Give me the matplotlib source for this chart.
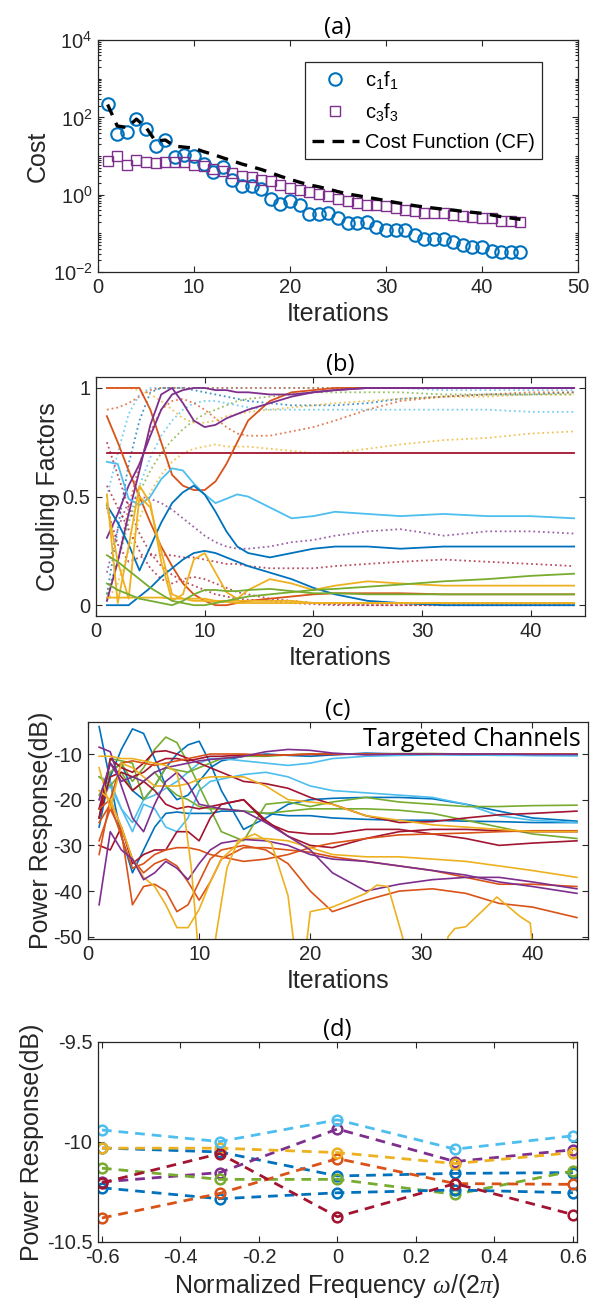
import numpy as np
import matplotlib
matplotlib.use("Agg")
import matplotlib.pyplot as plt
from matplotlib.ticker import LogLocator, NullFormatter, FuncFormatter

plt.rcParams['font.family'] = ['Liberation Sans', 'DejaVu Sans']
plt.rcParams['mathtext.fontset'] = 'custom'
plt.rcParams['mathtext.rm'] = 'Liberation Sans'
plt.rcParams['mathtext.it'] = 'Liberation Serif:italic'
plt.rcParams['axes.unicode_minus'] = False

# MATLAB default colour order
C1, C2, C3, C4, C5, C6, C7 = '#0072BD', '#D95319', '#EDB120', '#7E2F8E', '#77AC30', '#4DBEEE', '#A2142F'
GREY = '#262626'

# ---- (a) cost per iteration ----
iters = np.arange(1, 45)
c1f1 = [221, 38, 42, 90, 50, 18.6, 26, 9.4, 10.6, 10, 6.3, 3.8, 5.2, 2.4, 1.7, 1.7, 1.4, 0.77,
        0.57, 0.67, 0.55, 0.32, 0.32, 0.34, 0.25, 0.19, 0.19, 0.2, 0.15, 0.12, 0.12, 0.12,
        0.093, 0.073, 0.073, 0.072, 0.06, 0.049, 0.045, 0.044, 0.036, 0.034, 0.034, 0.034]
c3f3 = [7.6, 10, 6, 7.7, 6.9, 6.6, 6.9, 6.9, 7.1, 6, 5.4, 4.6, 4.2, 3.6, 3.0, 2.8, 2.4, 2.2,
        1.8, 1.5, 1.3, 1.17, 1.06, 0.9, 0.77, 0.67, 0.6, 0.55, 0.55, 0.5, 0.45, 0.41, 0.37,
        0.34, 0.34, 0.33, 0.3, 0.28, 0.26, 0.25, 0.25, 0.21, 0.21, 0.2]
cost_cf = [215, 60, 55, 90, 55, 24, 26, 18, 17, 16, 13, 11, 9, 7.5, 6.2, 5.3, 4.5, 3.7, 3.0,
           2.5, 2.1, 1.8, 1.6, 1.4, 1.2, 1.05, 0.95, 0.86, 0.78, 0.7, 0.63, 0.57, 0.52, 0.48,
           0.45, 0.42, 0.4, 0.37, 0.35, 0.33, 0.3, 0.27, 0.25, 0.23]

# ---- (b) coupling factors ----
xb = [1, 2, 3, 4, 5, 6, 7, 8, 9, 10, 11, 12, 13, 14, 16, 18, 20, 22, 25, 28, 32, 36, 40, 44]
b_solid = [
    (C7, [0.7] * 24),
    (C2, [1, 1, 1, 1, 0.9, 0.75, 0.6, 0.55, 0.53, 0.53, 0.57, 0.65, 0.75, 0.85, 0.94, 0.98, 0.99, 1, 1, 1, 1, 1, 1, 1]),
    (C2, [0.87, 0.75, 0.62, 0.5, 0.38, 0.27, 0.18, 0.1, 0.05, 0.02, 0.0, 0.0, 0.01, 0.02, 0.03, 0.04, 0.05, 0.055, 0.055, 0.055, 0.05, 0.05, 0.05, 0.05]),
    (C4, [0.02, 0.2, 0.42, 0.62, 0.83, 0.97, 1.0, 0.93, 0.85, 0.82, 0.83, 0.86, 0.88, 0.9, 0.93, 0.96, 0.98, 0.99, 1, 1, 1, 1, 1, 1]),
    (C4, [0.31, 0.42, 0.55, 0.65, 0.78, 0.9, 0.97, 0.99, 1.0, 1.0, 0.99, 0.99, 0.98, 0.98, 0.97, 0.97, 0.98, 0.99, 1, 1, 1, 1, 1, 1]),
    (C6, [0.66, 0.65, 0.49, 0.46, 0.5, 0.58, 0.63, 0.62, 0.56, 0.51, 0.47, 0.49, 0.51, 0.5, 0.45, 0.4, 0.41, 0.43, 0.42, 0.41, 0.42, 0.41, 0.41, 0.4]),
    (C1, [0.46, 0.38, 0.28, 0.16, 0.27, 0.38, 0.47, 0.52, 0.55, 0.51, 0.43, 0.34, 0.27, 0.24, 0.22, 0.24, 0.26, 0.27, 0.27, 0.26, 0.27, 0.27, 0.27, 0.27]),
    (C1, [0, 0, 0, 0.04, 0.08, 0.13, 0.17, 0.21, 0.24, 0.25, 0.24, 0.22, 0.2, 0.18, 0.15, 0.12, 0.08, 0.05, 0.02, 0.01, 0, 0, 0, 0]),
    (C3, [0.51, 0.01, 0.27, 0.55, 0.47, 0.2, 0.02, 0.05, 0.21, 0.24, 0.15, 0.06, 0.03, 0.07, 0.12, 0.1, 0.07, 0.09, 0.11, 0.1, 0.09, 0.09, 0.09, 0.09]),
    (C3, [0.47, 0.2, 0.03, 0.5, 0.45, 0.25, 0.05, 0.03, 0.03, 0.03, 0.02, 0.02, 0.02, 0.02, 0.02, 0.02, 0.01, 0.01, 0.01, 0.01, 0.01, 0.01, 0.01, 0.01]),
    (C3, [0.035, 0.035, 0.035, 0.035, 0.035, 0.035, 0.03, 0.03, 0.02, 0.02, 0.015, 0.015, 0.01, 0.01, 0.01, 0.01, 0.01, 0.01, 0.01, 0.01, 0.01, 0.01, 0.01, 0.01]),
    (C5, [0.23, 0.2, 0.16, 0.12, 0.08, 0.05, 0.02, 0.01, 0.0, 0.0, 0.01, 0.02, 0.03, 0.04, 0.05, 0.06, 0.07, 0.075, 0.085, 0.095, 0.11, 0.12, 0.135, 0.145]),
    (C5, [0.1, 0.07, 0.05, 0.03, 0.02, 0.01, 0.0, 0.02, 0.05, 0.07, 0.07, 0.065, 0.065, 0.07, 0.075, 0.065, 0.055, 0.055, 0.05, 0.05, 0.05, 0.05, 0.05, 0.05]),
]
b_dotted = [
    (C6, [0.5, 0.7, 0.88, 0.97, 1, 1, 1, 1, 1, 1, 1, 1, 1, 1, 1, 1, 1, 1, 1, 1, 0.99, 0.99, 0.99, 0.99]),
    (C6, [0.05, 0.2, 0.4, 0.55, 0.68, 0.78, 0.85, 0.9, 0.93, 0.94, 0.94, 0.93, 0.92, 0.91, 0.9, 0.9, 0.9, 0.9, 0.9, 0.9, 0.9, 0.9, 0.89, 0.89]),
    (C1, [0.05, 0.35, 0.65, 0.85, 0.98, 1, 1, 1, 0.99, 0.98, 0.97, 0.96, 0.95, 0.94, 0.93, 0.92, 0.92, 0.92, 0.93, 0.95, 0.96, 0.97, 0.97, 0.98]),
    (C2, [0.9, 0.91, 0.93, 0.96, 0.99, 1, 1, 1, 1, 1, 1, 1, 1, 1, 1, 1, 1, 1, 1, 1, 1, 1, 1, 1]),
    (C2, [0.03, 0.2, 0.45, 0.65, 0.8, 0.9, 0.94, 0.95, 0.93, 0.9, 0.86, 0.82, 0.79, 0.78, 0.78, 0.8, 0.82, 0.85, 0.9, 0.94, 0.96, 0.97, 0.98, 0.98]),
    (C3, [0.02, 0.1, 0.25, 0.4, 0.52, 0.6, 0.66, 0.7, 0.72, 0.73, 0.74, 0.73, 0.73, 0.73, 0.72, 0.71, 0.7, 0.7, 0.72, 0.74, 0.76, 0.77, 0.79, 0.8]),
    (C3, [1, 1, 1, 0.99, 0.97, 0.94, 0.9, 0.86, 0.84, 0.84, 0.85, 0.87, 0.88, 0.89, 0.9, 0.91, 0.92, 0.93, 0.94, 0.95, 0.96, 0.96, 0.97, 0.97]),
    (C5, [0.05, 0.2, 0.38, 0.52, 0.62, 0.7, 0.76, 0.81, 0.85, 0.88, 0.9, 0.92, 0.94, 0.95, 0.96, 0.97, 0.98, 0.98, 0.98, 0.98, 0.97, 0.97, 0.97, 0.97]),
    (C4, [0.15, 0.35, 0.48, 0.5, 0.49, 0.47, 0.44, 0.4, 0.36, 0.32, 0.29, 0.27, 0.26, 0.26, 0.27, 0.29, 0.3, 0.32, 0.34, 0.35, 0.32, 0.34, 0.34, 0.33]),
    (C7, [0.45, 0.28, 0.2, 0.22, 0.23, 0.23, 0.23, 0.22, 0.22, 0.21, 0.2, 0.19, 0.19, 0.18, 0.17, 0.17, 0.17, 0.18, 0.19, 0.2, 0.21, 0.2, 0.19, 0.18]),
    (C7, [0.75, 0.6, 0.45, 0.33, 0.24, 0.18, 0.14, 0.11, 0.09, 0.07, 0.05, 0.04, 0.03, 0.025, 0.02, 0.01, 0.005, 0, 0, 0, 0, 0, 0, 0]),
    (C7, [0.55, 0.45, 0.35, 0.25, 0.17, 0.12, 0.1, 0.12, 0.13, 0.12, 0.1, 0.08, 0.06, 0.05, 0.03, 0.02, 0.01, 0.005, 0, 0, 0, 0, 0, 0]),
]

# ---- (c) power response of the channels ----
xc = [1, 2, 3, 4, 5, 6, 7, 8, 9, 10, 11, 12, 14, 16, 18, 20, 22, 25, 28, 31, 34, 37, 40, 44]
c_lines = [
    (C1, [-4, -16, -28, -36, -31, -26, -23, -22.7, -23, -23, -23, -22.5, -22.5, -23, -23.5, -23.5, -24, -24.3, -24.5, -24.5, -24.7, -24.8, -25, -25]),
    (C1, [-22, -15, -9, -4.5, -5.5, -11, -17, -20, -19, -16, -13, -11.5, -10.5, -10, -10.3, -10.5, -10.2, -9.8, -10, -10, -10.2, -10.2, -10.3, -10.3]),
    (C1, [-26, -14, -12, -18, -20, -17, -13, -10, -8, -7.2, -12, -18, -26.5, -24, -21, -20, -19.7, -19.5, -19.5, -19.8, -21, -22.5, -24, -24.7]),
    (C6, [-20, -17, -22, -25, -20, -19, -17.5, -16, -14, -12, -11, -11, -11.5, -12, -12.5, -12, -11, -10.5, -10.3, -10.2, -10.2, -10.3, -10.3, -10.4]),
    (C6, [-15, -16, -22, -27, -21, -22, -26, -27, -24, -18, -16, -15.5, -14.5, -14, -15, -17, -18, -18.5, -19, -19.5, -21, -23.5, -24.5, -25]),
    (C5, [-19, -14, -12, -16, -13, -9, -6.3, -7.5, -12, -17, -22, -27, -29, -21, -20.5, -21.5, -20.5, -19.5, -20.5, -21, -21.5, -21.5, -21.3, -21.2]),
    (C5, [-24, -11, -11.5, -12, -20, -17, -13, -13.5, -14, -13, -12, -11, -10.5, -10.5, -10.2, -10, -10, -10, -9.9, -9.9, -10, -10, -10, -10]),
    (C5, [-15, -17, -14, -18, -16, -14, -17, -19, -20, -21.5, -22, -22, -22.5, -23, -22.5, -22, -22, -22, -22.3, -23, -24.5, -26, -27.5, -28.5]),
    (C7, [-24, -11, -13, -14, -12, -9.5, -9.3, -10, -11, -12, -13, -14, -16, -16.5, -17.5, -19.5, -21, -23.5, -25, -24.8, -24, -23.3, -23, -22.5]),
    (C7, [-22, -12, -15, -18, -16, -18, -21, -22, -21.5, -22, -21.5, -21, -20, -24.5, -28, -30, -30.5, -28.5, -27, -26.5, -26.5, -26.8, -27, -27]),
    (C7, [-30, -31, -26, -34, -32, -31, -31, -27, -27, -29, -24, -21, -20, -25, -27, -27.5, -27.5, -26.5, -26.5, -27.5, -28.5, -30, -29.5, -29]),
    (C7, [-24, -15, -14, -15, -14, -12, -11, -11, -11.5, -11, -10.5, -10.5, -10.2, -10.3, -10.2, -10.1, -10.1, -10, -10, -10, -10, -10, -10, -10]),
    (C2, [-32, -20, -12, -11.5, -12, -12.5, -12, -11.5, -11, -10.5, -10, -10, -10, -10.3, -10.2, -10, -10, -10, -10, -10, -10, -10, -10, -10]),
    (C2, [-29, -22, -27, -43, -39, -38.5, -40, -44.5, -43, -38, -33, -31, -30, -31, -34, -40, -44.5, -42, -40, -39.5, -40.5, -42.7, -43.5, -45.8]),
    (C2, [-22, -20, -26, -33, -36, -34, -33, -34.5, -38, -42, -38, -33, -30.5, -30.5, -31, -31.5, -32.5, -33.5, -34.5, -35.5, -37, -38.5, -38.5, -39]),
    (C2, [-25, -21, -28, -35, -34, -32, -31, -30.5, -30.5, -31, -32, -32.5, -33.5, -33, -32, -30.5, -29.5, -28.5, -27.7, -27.5, -27.3, -27, -26.8, -26.8]),
    (C3, [-13, -22, -12, -13, -15, -17, -17, -17, -16.5, -15.5, -15, -15, -15, -17, -20, -20.5, -21, -23.5, -24.5, -25.5, -26, -26.5, -27, -27]),
    (C3, [-18, -20, -26, -33, -37, -39, -43, -48, -48, -44, -38, -33, -28.5, -28.5, -29, -30.5, -32, -32.5, -32.5, -33, -33.5, -34.5, -35.5, -37]),
    (C4, [-43, -27, -31, -33, -37.5, -36, -33.5, -35, -37.5, -34, -31, -29.5, -28.7, -29, -30, -32, -33, -33.5, -34.5, -35.5, -36.5, -38, -39, -40.5]),
    (C4, [-8.5, -9.5, -17, -24, -27, -21, -16, -14, -16.5, -21, -21.5, -22, -22.5, -25, -28, -31, -36, -40, -38.5, -37.5, -37, -37, -38, -39.5]),
    (C4, [-20, -12, -16, -15, -16, -14, -13, -12.5, -12, -11.5, -11.2, -11, -10.5, -9.5, -9, -9.2, -9.8, -10.2, -10, -10, -10, -10, -10.1, -10.1]),
]
# yellow channel that keeps dropping below the axis
xc_y3 = [1, 2, 3, 4, 5, 6, 7, 8, 8.5, 9.3, 10, 11, 11.5, 12.5, 13.5, 15, 16.5, 18, 18.7, 19.5, 20, 22, 25, 26, 27, 28.3,
         29, 32, 32.4, 33, 34, 36.8, 38.9, 39.8, 40.3, 44]
yc_y3 = [-10.5, -10.5, -11, -11, -11.5, -12, -12.5, -14, -20, -35, -55, -60, -50, -35, -29, -27.5, -29.5, -41, -55, -55,
         -44.5, -43.5, -40.5, -38.7, -39, -50, -60, -60, -50, -48.2, -47.8, -41.3, -45.6, -47, -60, -60]

# ---- (d) response over normalized frequency ----
freq = [-0.6, -0.3, 0, 0.3, 0.6]
d_lines = [
    (C1, [-10.03, -10.05, -10.17, -10.157, -10.153]),
    (C4, [-10.2, -10.153, -9.935, -10.098, -10.039]),
    (C5, [-10.131, -10.187, -10.187, -10.262, -10.145]),
    (C1, [-10.229, -10.284, -10.254, -10.24, -10.254]),
    (C2, [-10.38, -10.257, -10.083, -10.208, -10.212]),
    (C3, [-10.031, -10.031, -10.053, -10.108, -10.053]),
    (C7, [-10.204, -10.058, -10.374, -10.208, -10.363]),
    (C6, [-9.94, -9.998, -9.889, -10.036, -9.969]),
]

TICK_FS = 14.5
LAB_FS = 18
TITLE_FS = 17
TITLE_FONT = ['Open Sans', 'DejaVu Sans']


def style(ax):
    ax.tick_params(direction='in', which='both', top=True, right=True, colors=GREY,
                   labelsize=TICK_FS, length=4, width=0.8, pad=4)
    ax.tick_params(which='minor', length=2.5)
    for s in ax.spines.values():
        s.set_color(GREY)
        s.set_linewidth(0.9)


def plain(v, pos):
    return '%g' % v


fig = plt.figure(figsize=(6.1, 13.13), dpi=100)

# (a)
ax = fig.add_axes([0.1607, 0.7928, 0.787, 0.1767])
ax.plot(iters, c1f1, 'o', mfc='none', mec=C1, ms=9, mew=1.5, label=r'c$_1$f$_1$')
ax.plot(iters, c3f3, 's', mfc='none', mec=C4, ms=6.5, mew=1.0, label=r'c$_3$f$_3$')
ax.plot(iters, cost_cf, '--', color='k', lw=2.4, dashes=(3.5, 2.5), label='Cost Function (CF)')
ax.set_yscale('log')
ax.set_ylim(1e-2, 1e4)
ax.set_xlim(0, 50)
ax.set_yticks([1e-2, 1, 1e2, 1e4])
ax.set_yticklabels([r'$\mathregular{10^{-2}}$', r'$\mathregular{10^{0}}$', r'$\mathregular{10^{2}}$', r'$\mathregular{10^{4}}$'])
ax.yaxis.set_minor_locator(LogLocator(base=10, subs=np.arange(1, 10), numticks=30))
ax.yaxis.set_minor_formatter(NullFormatter())
ax.set_xticks(range(0, 51, 10))
style(ax)
ax.set_xlabel('Iterations', fontsize=LAB_FS, color=GREY, labelpad=4)
ax.set_ylabel('Cost', fontsize=LAB_FS, color=GREY, labelpad=2)
ax.set_title('(a)', fontsize=TITLE_FS, family=TITLE_FONT, pad=3)
leg = ax.legend(loc='upper right', bbox_to_anchor=(0.945, 0.95), fontsize=14.5, fancybox=False,
                framealpha=1, edgecolor=GREY, handlelength=2.3, borderpad=0.35, labelspacing=0.5,
                handletextpad=0.3)
leg.get_frame().set_linewidth(0.9)

# (b)
ax = fig.add_axes([0.1574, 0.5308, 0.8016, 0.182])
for col, vals in b_dotted:
    ax.plot(xb, vals, ':', color=col, lw=1.3, alpha=0.75)
for col, vals in b_solid:
    ax.plot(xb, vals, '-', color=col, lw=1.3)
ax.set_xlim(0, 45)
ax.set_ylim(-0.05, 1.05)
ax.set_yticks([0, 0.5, 1])
ax.set_xticks(range(0, 41, 10))
ax.yaxis.set_major_formatter(FuncFormatter(plain))
style(ax)
ax.set_xlabel('Iterations', fontsize=LAB_FS, color=GREY, labelpad=4)
ax.set_ylabel('Coupling Factors', fontsize=LAB_FS, color=GREY, labelpad=2)
ax.set_title('(b)', fontsize=TITLE_FS, family=TITLE_FONT, pad=3)

# (c)
ax = fig.add_axes([0.1443, 0.2848, 0.8197, 0.1653])
for col, vals in c_lines:
    ax.plot(xc, vals, '-', color=col, lw=1.2)
ax.plot(xc_y3, yc_y3, '-', color=C3, lw=1.2)
ax.set_xlim(0, 45)
ax.set_ylim(-50.5, -3)
ax.set_yticks([-50, -40, -30, -20, -10])
ax.set_xticks(range(0, 41, 10))
style(ax)
ax.text(0.985, 0.975, 'Targeted Channels', transform=ax.transAxes, ha='right', va='top',
        fontsize=18, family=TITLE_FONT)
ax.set_xlabel('Iterations', fontsize=LAB_FS, color=GREY, labelpad=4)
ax.set_ylabel('Power Response(dB)', fontsize=LAB_FS, color=GREY, labelpad=0)
ax.set_title('(c)', fontsize=TITLE_FS, family=TITLE_FONT, pad=3)

# (d)
ax = fig.add_axes([0.1607, 0.0541, 0.785, 0.1523])
for col, vals in d_lines:
    ax.plot(freq, vals, 'o--', color=col, mfc='none', ms=7, mew=1.8, lw=2, dashes=(3.5, 2.5))
ax.set_xlim(-0.61, 0.61)
ax.set_ylim(-10.5, -9.5)
ax.set_yticks([-10.5, -10, -9.5])
ax.set_xticks([-0.6, -0.4, -0.2, 0, 0.2, 0.4, 0.6])
ax.xaxis.set_major_formatter(FuncFormatter(plain))
ax.yaxis.set_major_formatter(FuncFormatter(plain))
style(ax)
ax.set_xlabel(r'Normalized Frequency $\omega$/(2$\pi$)', fontsize=LAB_FS, color=GREY, labelpad=4)
ax.set_ylabel('Power Response(dB)', fontsize=LAB_FS, color=GREY, labelpad=2)
ax.set_title('(d)', fontsize=TITLE_FS, family=TITLE_FONT, pad=3)

fig.savefig('out.png', dpi=100)
